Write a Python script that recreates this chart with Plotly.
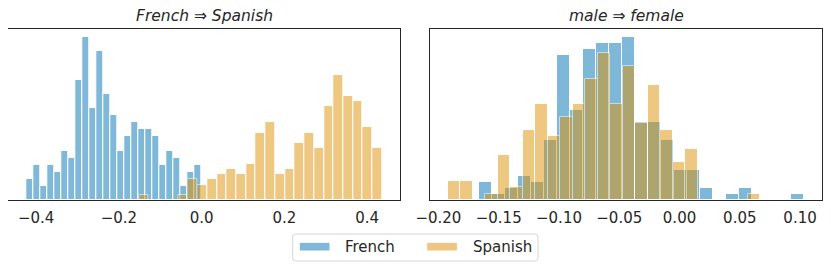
import numpy as np
import plotly.graph_objects as go

# ---------------- data (histogram bins) ----------------
# left panel: French => Spanish
FS_FRENCH_START = -0.4242
FS_FRENCH_WIDTH = 0.01697
FS_FRENCH_COUNTS = [3, 5, 2, 5, 4, 7, 6, 17, 23, 13, 21, 15, 12, 7, 9, 11, 10, 10, 9, 5, 7, 6, 2, 4, 5]
FS_SPANISH_START = -0.1513
FS_SPANISH_WIDTH = 0.02351
FS_SPANISH_COUNTS = [1, 0, 0, 0, 1, 4, 3, 4, 5, 6, 5, 7, 13, 15, 5, 6, 11, 13, 10, 18, 24, 20, 19, 14, 10]

# right panel: male => female
MF_FRENCH_START = -0.1661
MF_FRENCH_WIDTH = 0.01079
MF_FRENCH_COUNTS = [3, 1, 2, 4, 3, 10, 24, 15, 25, 26, 26, 27, 13, 13, 10, 5, 5, 2, 0, 1, 2, 0, 0, 0, 1]
MF_SPANISH_START = -0.1922
MF_SPANISH_WIDTH = 0.01036
MF_SPANISH_COUNTS = [3, 3, 0, 1, 7, 2, 11, 15, 10, 13, 15, 19, 23, 15, 21, 12, 18, 11, 6, 8, 0, 0, 0, 0, 1]

TITLES = ["<i>French</i> ⇒ <i>Spanish</i>", "<i>male</i> ⇒ <i>female</i>"]
SERIES = ["French", "Spanish"]

LEFT_TICKS = [-0.4, -0.2, 0.0, 0.2, 0.4]
LEFT_TICKTEXT = ["−0.4", "−0.2", "0.0", "0.2", "0.4"]
RIGHT_TICKS = [-0.20, -0.15, -0.10, -0.05, 0.00, 0.05, 0.10]
RIGHT_TICKTEXT = ["−0.20", "−0.15", "−0.10", "−0.05", "0.00", "0.05", "0.10"]

# ---------------- styling ----------------
PAGE_W, PAGE_H = 831, 270
OFF = 8                      # default page margin around the plot div
W, H = PAGE_W - OFF, PAGE_H - OFF
BLUE = "#0173B2"
ORANGE = "#DE8F05"
ALPHA = 0.5
DARK = "#262626"
FONT = "DejaVu Sans"


def fx(p):   # page pixel -> paper fraction
    return (p - OFF) / W


def fy(p):
    return 1 - (p - OFF) / H


def hist(start, width, counts):
    counts = np.asarray(counts, dtype=float)
    edges = start + width * np.arange(len(counts) + 1)
    centers = (edges[:-1] + edges[1:]) / 2
    dens = counts / (counts.sum() * width)
    return centers, dens, edges


panels = [
    ((FS_FRENCH_START, FS_FRENCH_WIDTH, FS_FRENCH_COUNTS),
     (FS_SPANISH_START, FS_SPANISH_WIDTH, FS_SPANISH_COUNTS)),
    ((MF_FRENCH_START, MF_FRENCH_WIDTH, MF_FRENCH_COUNTS),
     (MF_SPANISH_START, MF_SPANISH_WIDTH, MF_SPANISH_COUNTS)),
]

fig = go.Figure()
ranges = []
for i, (fr, sp) in enumerate(panels):
    xa = "x" if i == 0 else "x2"
    ya = "y" if i == 0 else "y2"
    lo, hi, ymax = np.inf, -np.inf, 0
    for (start, width, counts), color, name in zip((fr, sp), (BLUE, ORANGE), SERIES):
        c, d, e = hist(start, width, counts)
        lo, hi, ymax = min(lo, e[0]), max(hi, e[-1]), max(ymax, d.max())
        fig.add_trace(go.Bar(
            x=c, y=d, width=width, name=name, showlegend=False,
            marker=dict(color=color, line=dict(color="white", width=1)),
            opacity=ALPHA, xaxis=xa, yaxis=ya,
        ))
    span = hi - lo
    ranges.append(([lo - 0.05 * span, hi + 0.05 * span], [0, 1.05 * ymax]))

ydom = [fy(200.3), fy(29)]
xdoms = [[fx(8.3), fx(400)], [fx(430), fx(822.3)]]
ticks = [(LEFT_TICKS, LEFT_TICKTEXT), (RIGHT_TICKS, RIGHT_TICKTEXT)]

axcommon = dict(showline=True, linecolor=DARK, linewidth=1.25, mirror=True,
                showgrid=False, zeroline=False, automargin=False)

layout = dict(
    width=W, height=H, margin=dict(l=0, r=0, t=0, b=0),
    paper_bgcolor="white", plot_bgcolor="white",
    barmode="overlay", bargap=0, showlegend=False,
    font=dict(family=FONT, color=DARK),
)
for i in range(2):
    sfx = "" if i == 0 else "2"
    xr, yr = ranges[i]
    layout["xaxis" + sfx] = dict(
        domain=xdoms[i], range=xr, anchor="y" + sfx,
        tickmode="array", tickvals=ticks[i][0], ticktext=ticks[i][1],
        ticks="outside", ticklen=4, tickcolor="rgba(0,0,0,0)",
        tickfont=dict(family=FONT, size=15, color=DARK), **axcommon)
    layout["yaxis" + sfx] = dict(
        domain=ydom, range=yr, anchor="x" + sfx, showticklabels=False,
        ticks="", **axcommon)
fig.update_layout(**layout)

# titles
for i, t in enumerate(TITLES):
    fig.add_annotation(x=(xdoms[i][0] + xdoms[i][1]) / 2, y=fy(15.8), xref="paper", yref="paper",
                       text=t, showarrow=False, xanchor="center", yanchor="middle",
                       font=dict(family=FONT, size=15.5, color=DARK))

# hand-drawn legend (matplotlib-like box below the panels)
x0, x1, y0, y1, r = 292.7, 538, 234, 261, 3
path = (f"M{fx(x0 + r)},{fy(y0)} L{fx(x1 - r)},{fy(y0)} Q{fx(x1)},{fy(y0)} {fx(x1)},{fy(y0 + r)} "
        f"L{fx(x1)},{fy(y1 - r)} Q{fx(x1)},{fy(y1)} {fx(x1 - r)},{fy(y1)} "
        f"L{fx(x0 + r)},{fy(y1)} Q{fx(x0)},{fy(y1)} {fx(x0)},{fy(y1 - r)} "
        f"L{fx(x0)},{fy(y0 + r)} Q{fx(x0)},{fy(y0)} {fx(x0 + r)},{fy(y0)} Z")
fig.add_shape(type="path", path=path, xref="paper", yref="paper",
              line=dict(color="#d6d6d6", width=1), fillcolor="white")
for name, color, px0, tx in zip(SERIES, (BLUE, ORANGE), (299.3, 426.7), (343.3, 470.7)):
    fig.add_shape(type="rect", xref="paper", yref="paper",
                  x0=fx(px0), x1=fx(px0 + 30.7), y0=fy(251), y1=fy(242.3),
                  fillcolor=color, opacity=ALPHA, line=dict(color="white", width=1))
    fig.add_annotation(x=fx(tx), y=fy(246.6), xref="paper", yref="paper", text=name,
                       showarrow=False, xanchor="left", yanchor="middle",
                       font=dict(family=FONT, size=15, color=DARK))

fig.write_html("out.html")
